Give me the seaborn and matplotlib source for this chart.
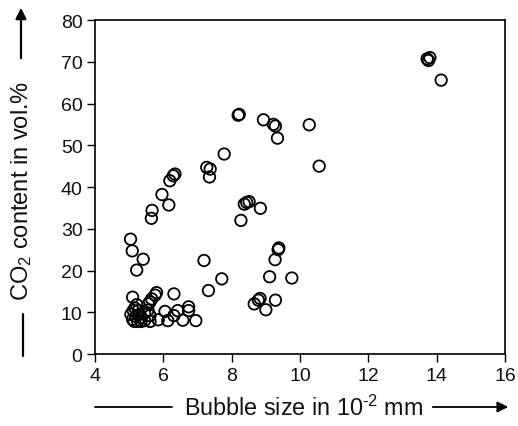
import matplotlib
matplotlib.use("Agg")
import matplotlib.pyplot as plt
import seaborn as sns
import pandas as pd

bubble_size = [
    13.72, 13.80, 13.76, 14.13,
    10.27, 10.56,
    8.19, 8.22, 8.93, 9.22, 9.28, 9.34,
    7.78,
    7.27, 7.37, 7.35,
    6.34, 6.29, 6.19,
    5.96, 6.16, 5.67, 5.65,
    8.37, 8.44, 8.51, 8.84, 8.27,
    5.04, 5.09, 5.41, 5.22,
    9.38, 9.36, 9.27, 9.11, 9.76,
    7.19, 7.71, 7.32,
    8.83, 8.78, 8.66, 9.28, 9.00,
    5.10, 6.31, 5.80, 5.76, 5.66, 5.61, 5.56,
    5.22, 5.17, 5.27, 5.12,
    6.05, 6.42, 6.74, 6.74,
    5.85, 6.13, 6.31, 6.57, 6.95,
    5.61, 5.61, 5.45, 5.35, 5.25, 5.15, 5.10, 5.20, 5.30, 5.45, 5.55, 5.35, 5.05,
]
co2_content = [
    70.7, 71.0, 70.3, 65.6,
    54.9, 45.0,
    57.2, 57.4, 56.1, 55.0, 54.6, 51.7,
    47.9,
    44.7, 44.3, 42.4,
    43.1, 42.7, 41.5,
    38.2, 35.7, 34.4, 32.5,
    35.9, 36.3, 36.5, 34.9, 32.0,
    27.5, 24.7, 22.7, 20.1,
    25.4, 25.0, 22.6, 18.5, 18.2,
    22.4, 18.0, 15.2,
    13.3, 12.9, 12.0, 12.9, 10.6,
    13.6, 14.4, 14.7, 14.1, 13.2, 12.5, 12.0,
    11.8, 11.0, 10.4, 10.4,
    10.2, 10.4, 11.3, 10.4,
    8.2, 8.0, 9.2, 8.1, 8.0,
    7.8, 9.2, 8.0, 7.8, 7.8, 7.8, 8.3, 9.0, 9.5, 9.8, 10.5, 8.8, 9.5,
]
x_ticks = [4, 6, 8, 10, 12, 14, 16]
y_ticks = [0, 10, 20, 30, 40, 50, 60, 70, 80]

df = pd.DataFrame({"size": bubble_size, "co2": co2_content})

sns.set_theme(style="white")
plt.rcParams["font.family"] = ["Liberation Sans", "DejaVu Sans"]
plt.rcParams["mathtext.fontset"] = "custom"
plt.rcParams["mathtext.rm"] = "Liberation Sans"
plt.rcParams["mathtext.it"] = "Liberation Sans:italic"
plt.rcParams["mathtext.bf"] = "Liberation Sans:bold"

fig = plt.figure(figsize=(5.18, 4.27), dpi=100)
ax = fig.add_axes([0.1834, 0.1686, 0.7916, 0.7822])

sns.scatterplot(data=df, x="size", y="co2", ax=ax, marker="o", s=68,
                facecolors="none", edgecolor="black", linewidth=1.3)

ax.set_xlim(4, 16)
ax.set_ylim(0, 80)
ax.set_xticks(x_ticks)
ax.set_yticks(y_ticks)
ax.set_xticklabels([str(t) for t in x_ticks])
ax.set_yticklabels([str(t) for t in y_ticks])
ax.set_xlabel("")
ax.set_ylabel("")
ax.tick_params(axis="both", which="major", direction="out", length=6, width=1.0,
               color="black", labelsize=14, labelcolor="#111111", pad=3,
               bottom=True, left=True, top=False, right=False)
for sp in ax.spines.values():
    sp.set_visible(True)
    sp.set_color("black")
    sp.set_linewidth(1.2)

# x label with arrow decoration
fig.text(304 / 518, 1 - 408 / 427, "Bubble size in 10$^{\\text{-2}}$ mm", ha="center", va="center",
         fontsize=16.8, color="#111111")
fig.add_artist(plt.Line2D([95 / 518, 172 / 518], [1 - 408 / 427] * 2, color="black", lw=1.3))
ax.annotate("", xy=(511 / 518, 1 - 408 / 427), xytext=(430 / 518, 1 - 408 / 427),
            xycoords="figure fraction", textcoords="figure fraction",
            arrowprops=dict(arrowstyle="-|>", color="black", lw=1.3, mutation_scale=16))

# y label with arrow decoration
fig.text(22 / 518, 1 - 191 / 427, "CO$_{\\mathrm{2}}$ content in vol.%", ha="center", va="center",
         rotation=90, fontsize=17, color="#111111")
fig.add_artist(plt.Line2D([23 / 518] * 2, [1 - 315 / 427, 1 - 357 / 427], color="black", lw=1.6))
ax.annotate("", xy=(21 / 518, 1 - 6 / 427), xytext=(21 / 518, 1 - 62 / 427),
            xycoords="figure fraction", textcoords="figure fraction",
            arrowprops=dict(arrowstyle="-|>", color="black", lw=1.6, mutation_scale=16))

fig.savefig("out.png", dpi=100, facecolor="white")
